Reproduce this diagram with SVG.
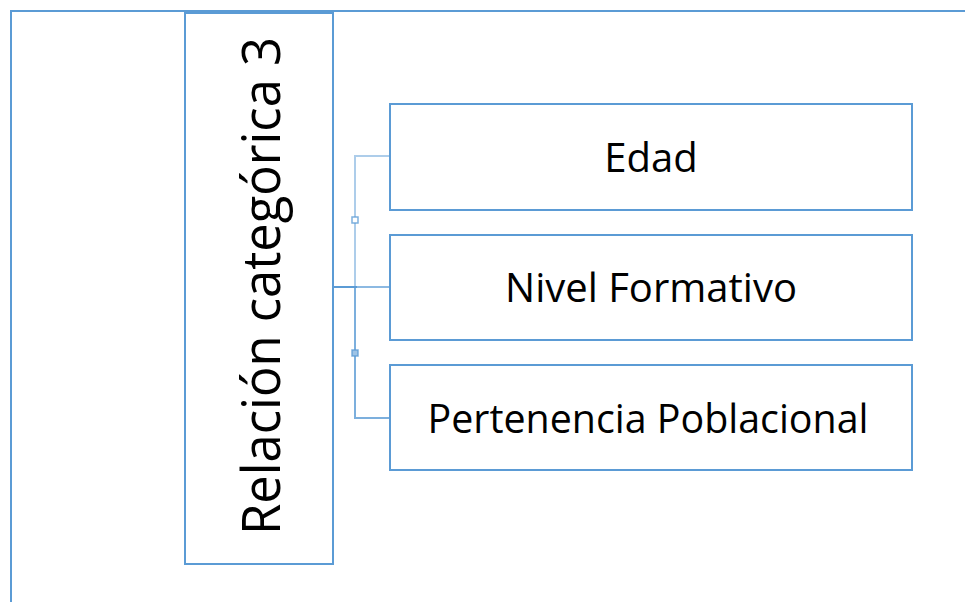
<svg xmlns="http://www.w3.org/2000/svg" width="965" height="602" viewBox="0 0 965 602">
<style>
.box{fill:#fff;stroke:#5b9bd5;stroke-width:2}
.frame{fill:none;stroke:#5b9bd5;stroke-width:2}
.lbl{font-family:"Open Sans","Noto Sans","Liberation Sans",sans-serif;fill:#000;text-anchor:middle}
.conn{fill:none;stroke:#5b9bd5;stroke-width:2}
</style>
<rect width="965" height="602" fill="#fff"/>
<path class="frame" d="M11,602 V11 H965"/>
<g id="connectors">
<path class="conn" stroke-opacity="0.5" d="M390,156 H355 V287"/>
<path class="conn" stroke-opacity="0.8" d="M355,287 V418 H390"/>
<path class="conn" stroke-opacity="0.7" d="M355,287 H390"/>
<path class="conn" stroke-width="3" d="M333,287 H357"/>
<rect x="352" y="217" width="6" height="6" fill="#fff" stroke="#5b9bd5" stroke-width="1.5" stroke-opacity="0.8"/>
<rect x="352" y="350" width="6" height="6" fill="#9dc3e6" stroke="#5b9bd5" stroke-width="1.5" stroke-opacity="0.8"/>
</g>
<g id="main">
<rect class="box" x="185" y="13" width="148" height="551"/>
<text class="lbl" font-size="53" transform="translate(280,286) rotate(-90)" textLength="498" lengthAdjust="spacingAndGlyphs">Relación categórica 3</text>
</g>
<g id="edad">
<rect class="box" x="390" y="104" width="522" height="106"/>
<text class="lbl" x="651" y="172" font-size="40">Edad</text>
</g>
<g id="nivel">
<rect class="box" x="390" y="235" width="522" height="105"/>
<text class="lbl" x="651" y="302" font-size="40" textLength="292" lengthAdjust="spacingAndGlyphs">Nivel Formativo</text>
</g>
<g id="pertenencia">
<rect class="box" x="390" y="365" width="522" height="105"/>
<text class="lbl" x="648" y="433" font-size="40" textLength="441" lengthAdjust="spacingAndGlyphs">Pertenencia Poblacional</text>
</g>
</svg>
